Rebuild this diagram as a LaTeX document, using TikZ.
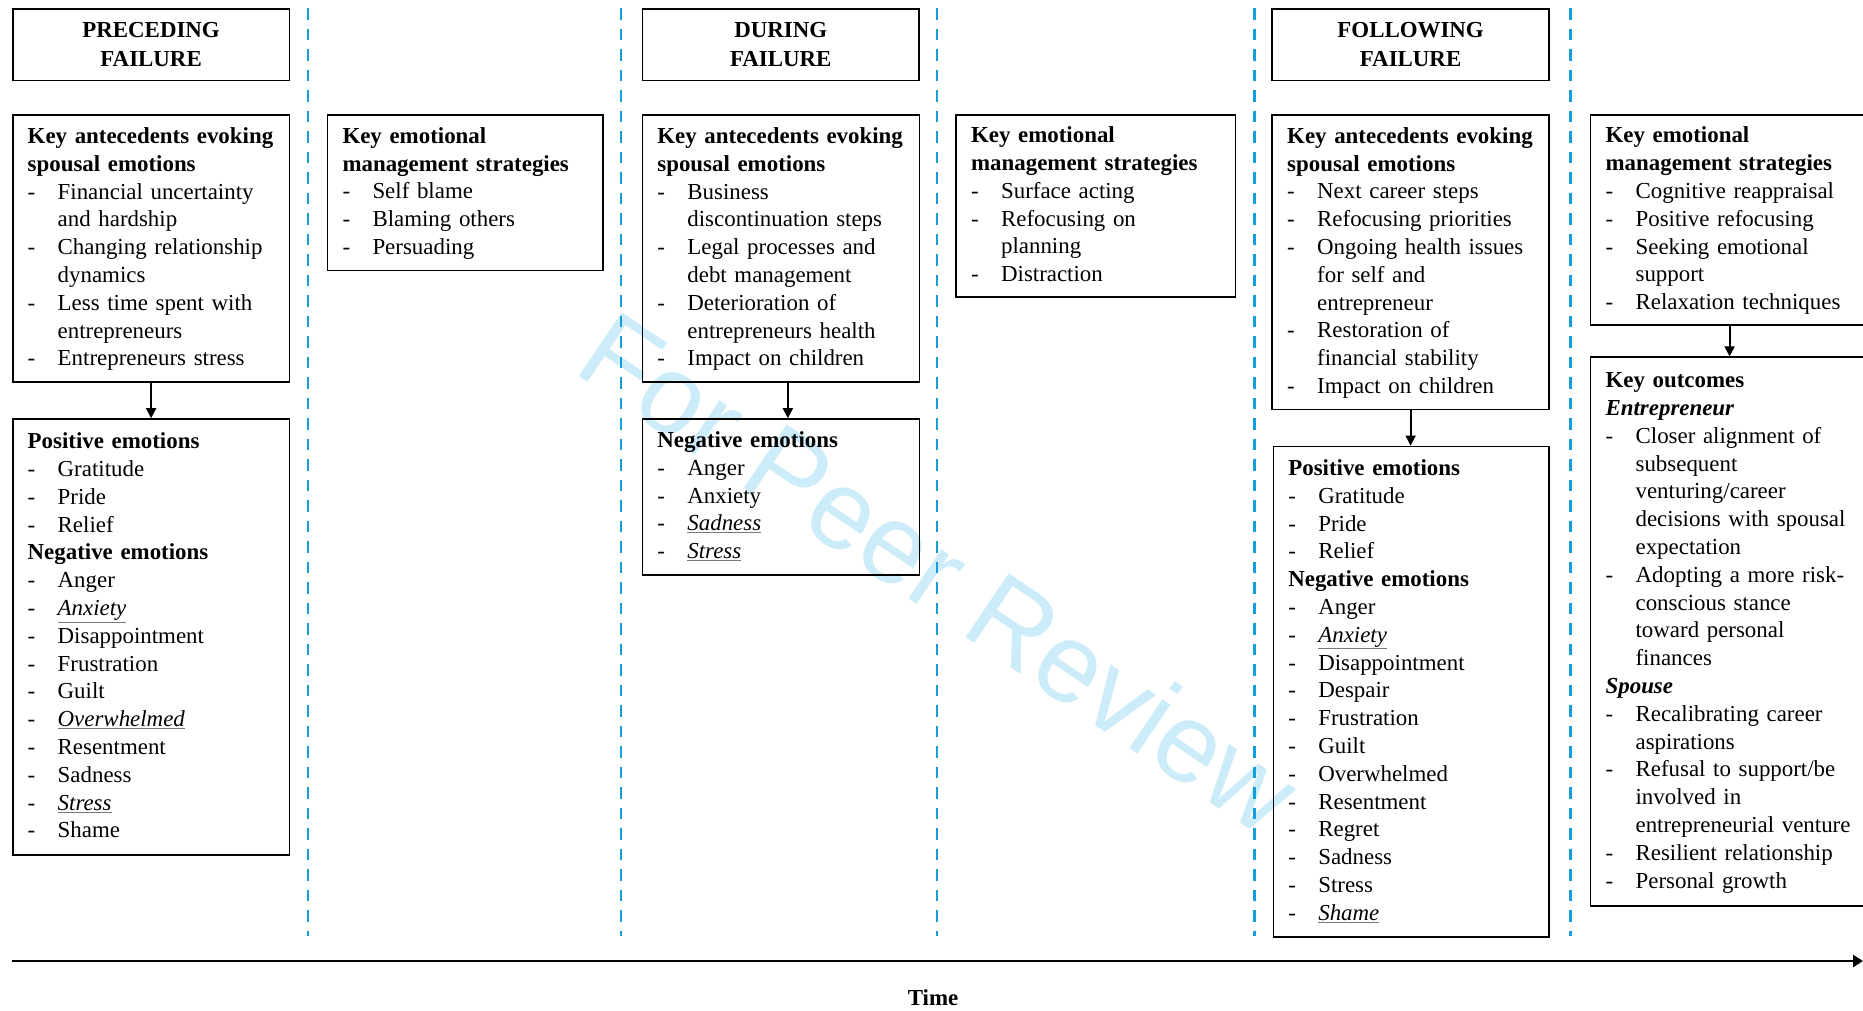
\documentclass[tikz,border=0pt]{standalone}
\usepackage{fontspec}
\setmainfont{Liberation Serif}
\newfontfamily\wmfont{Liberation Sans}
\usetikzlibrary{arrows.meta,calc}
\definecolor{dashblue}{RGB}{22,158,218}
\definecolor{wmblue}{RGB}{204,236,250}
\definecolor{ulgray}{RGB}{120,120,120}
\newcommand\hd[1]{\par\noindent\strut\mbox{\textbf{#1}}}
\newcommand\hdi[1]{\par\noindent\strut\mbox{\textbf{\textit{#1}}}}
\newcommand\itm[1]{\par\noindent\strut\makebox[30bp][l]{-}\mbox{#1}}
\newcommand\cnt[1]{\par\noindent\strut\hspace*{30bp}\mbox{#1}}
\newcommand\uit[1]{{\color{ulgray}\underline{\color{black}\textit{#1}}}}
\newcommand\boxend{\par\vspace*{7bp}}
\begin{document}
\begin{tikzpicture}[x=1bp,y=-1bp,
  txtfont/.style={font=\fontsize{22.9bp}{27.8bp}\selectfont},
  box/.style={draw, line width=1.6bp, anchor=north west, inner xsep=15bp, inner ysep=0pt,
    align=left, txtfont, execute at end node=\boxend},
  hdrbox/.style={draw, line width=1.6bp, anchor=north west, inner sep=0pt,
    align=center, font=\fontsize{22.9bp}{28.5bp}\selectfont\bfseries,
    minimum width=276.8bp, minimum height=71.3bp},
  sep/.style={dashblue, line width=2.3bp, dash pattern=on 11.5bp off 9bp},
  arr/.style={line width=1.8bp, -{Triangle[length=10bp,width=10bp]}},
  axis/.style={line width=2.7bp, -{Triangle[length=10bp,width=12bp]}}]
\path[use as bounding box] (0,0) rectangle (1863,1010);
\clip (0,0) rectangle (1863,1010);

% watermark
\node[text=wmblue, font=\wmfont\fontsize{112bp}{112bp}\selectfont, rotate=-34] (wm) at (940,572) {For Peer Review};

% separators
\foreach \i/\x in {1/307.7,2/621.3,3/937.3,4/1254.5,5/1570.5}{
  \coordinate (st\i) at (\x,8);
  \coordinate (sb\i) at (\x,936);
  \draw[sep] (st\i) -- (sb\i);
}

% headers
\node[hdrbox] (h1) at (11.9,8.3) {PRECEDING\\FAILURE};
\node[hdrbox] (h2) at (641.6,8.3) {DURING\\FAILURE};
\node[hdrbox] (h3) at (1271.4,8.3) {FOLLOWING\\FAILURE};

% preceding
\node[box, text width=246.8bp, minimum height=267.4bp] (ante1) at (11.9,114) {%
\hd{Key antecedents evoking}
\hd{spousal emotions}
\itm{Financial uncertainty}
\cnt{and hardship}
\itm{Changing relationship}
\cnt{dynamics}
\itm{Less time spent with}
\cnt{entrepreneurs}
\itm{Entrepreneurs stress}};

\node[box, text width=245.7bp, minimum height=155.7bp] (strat1) at (326.7,114) {%
\hd{Key emotional}
\hd{management strategies}
\itm{Self blame}
\itm{Blaming others}
\itm{Persuading}};

\node[box, text width=246.8bp, minimum height=436.1bp] (emo1) at (11.9,418.2) {%
\hd{Positive emotions}
\itm{Gratitude}
\itm{Pride}
\itm{Relief}
\hd{Negative emotions}
\itm{Anger}
\itm{\uit{Anxiety}}
\itm{Disappointment}
\itm{Frustration}
\itm{Guilt}
\itm{\uit{Overwhelmed}}
\itm{Resentment}
\itm{Sadness}
\itm{\uit{Stress}}
\itm{Shame}};

% during
\node[box, text width=246.9bp, minimum height=267.4bp] (ante2) at (641.6,114) {%
\hd{Key antecedents evoking}
\hd{spousal emotions}
\itm{Business}
\cnt{discontinuation steps}
\itm{Legal processes and}
\cnt{debt management}
\itm{Deterioration of}
\cnt{entrepreneurs health}
\itm{Impact on children}};

\node[box, text width=246.9bp, minimum height=155.7bp] (emo2) at (641.6,418.2) {%
\hd{Negative emotions}
\itm{Anger}
\itm{Anxiety}
\itm{\uit{Sadness}}
\itm{\uit{Stress}}};

\node[box, text width=249.2bp, minimum height=181.8bp] (strat2) at (955.3,114) {%
\hd{Key emotional}
\hd{management strategies}
\itm{Surface acting}
\itm{Refocusing on}
\cnt{planning}
\itm{Distraction}};

% following
\node[box, text width=246.8bp, minimum height=294.7bp] (ante3) at (1271.4,114) {%
\hd{Key antecedents evoking}
\hd{spousal emotions}
\itm{Next career steps}
\itm{Refocusing priorities}
\itm{Ongoing health issues}
\cnt{for self and}
\cnt{entrepreneur}
\itm{Restoration of}
\cnt{financial stability}
\itm{Impact on children}};

\node[box, text width=245.7bp, minimum height=490.6bp] (emo3) at (1272.5,445.6) {%
\hd{Positive emotions}
\itm{Gratitude}
\itm{Pride}
\itm{Relief}
\hd{Negative emotions}
\itm{Anger}
\itm{\uit{Anxiety}}
\itm{Disappointment}
\itm{Despair}
\itm{Frustration}
\itm{Guilt}
\itm{Overwhelmed}
\itm{Resentment}
\itm{Regret}
\itm{Sadness}
\itm{Stress}
\itm{\uit{Shame}}};

\node[box, text width=248bp, minimum height=210.4bp] (strat3) at (1589.8,114) {%
\hd{Key emotional}
\hd{management strategies}
\itm{Cognitive reappraisal}
\itm{Positive refocusing}
\itm{Seeking emotional}
\cnt{support}
\itm{Relaxation techniques}};

\node[box, text width=248bp, minimum height=548.9bp] (outc) at (1589.8,356.4) {%
\hd{Key outcomes}
\hdi{Entrepreneur}
\itm{Closer alignment of}
\cnt{subsequent}
\cnt{venturing/career}
\cnt{decisions with spousal}
\cnt{expectation}
\itm{Adopting a more risk-}
\cnt{conscious stance}
\cnt{toward personal}
\cnt{finances}
\hdi{Spouse}
\itm{Recalibrating career}
\cnt{aspirations}
\itm{Refusal to support/be}
\cnt{involved in}
\cnt{entrepreneurial venture}
\itm{Resilient relationship}
\itm{Personal growth}};

% connectors
\draw[arr] (ante1.south) -- (emo1.north);
\draw[arr] ([xshift=7bp]ante2.south) -- ([xshift=7bp]emo2.north);
\draw[arr] (ante3.south) -- (ante3.south |- emo3.north);
\draw[arr] (strat3.south) -- (strat3.south |- outc.north);

% time axis
\coordinate (ax0) at (12,961);
\coordinate (ax1) at (1863,961);
\draw[axis] (ax0) -- (ax1);
\node[font=\fontsize{22.9bp}{27.8bp}\selectfont\bfseries] (time) at (933,998) {Time};
\end{tikzpicture}
\end{document}
